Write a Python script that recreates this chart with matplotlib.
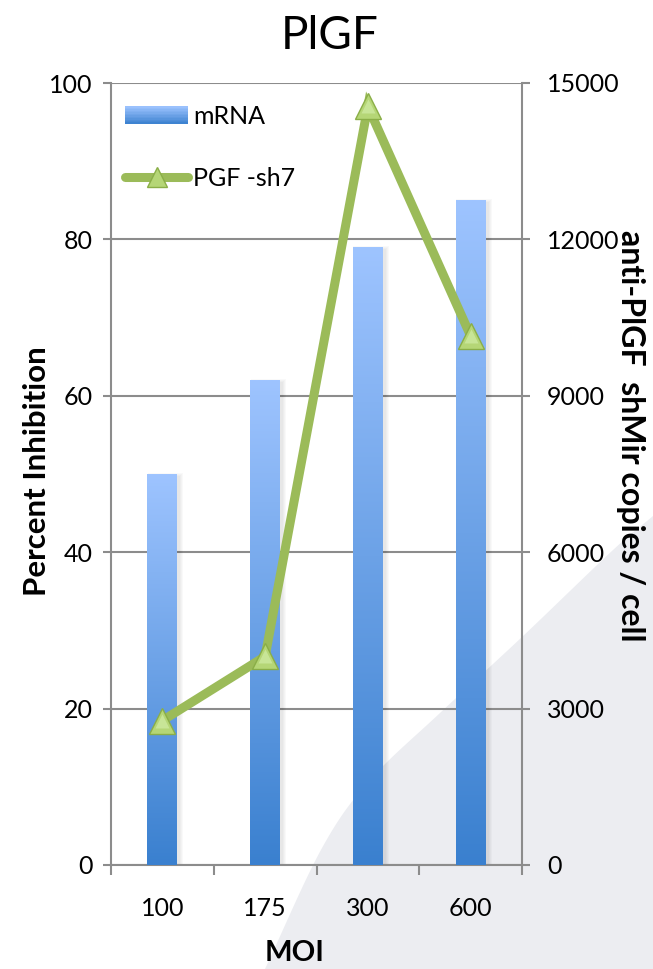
import numpy as np
import matplotlib
matplotlib.use("Agg")
import matplotlib.pyplot as plt
from matplotlib.patches import Rectangle, Polygon
from matplotlib.lines import Line2D
from matplotlib.legend_handler import HandlerBase
from matplotlib.colors import LinearSegmentedColormap, to_rgb

plt.rcParams['font.family'] = ['Lato', 'DejaVu Sans']

# ---- data ----
moi_labels = ["100", "175", "300", "600"]
inhibition_pct = [50, 62, 79, 85]              # bars, left axis
shmir_copies = [2770, 4000, 14550, 10150]      # line, right axis
left_ticks = [0, 20, 40, 60, 80, 100]
right_ticks = [0, 3000, 6000, 9000, 12000, 15000]

W, H, DPI = 653, 969, 100
fig = plt.figure(figsize=(W / DPI, H / DPI), dpi=DPI)
fig.patch.set_facecolor("white")

# decorative grey sweep in the lower-right corner (figure pixel coords)
anchors = np.array([(653, 516), (613, 550), (522, 637), (440, 713),
                    (370, 780), (322, 848), (265, 969)], dtype=float)

def catmull(pts, n=20):
    out = []
    P = np.vstack([2 * pts[0] - pts[1], pts, 2 * pts[-1] - pts[-2]])
    for i in range(1, len(P) - 2):
        p0, p1, p2, p3 = P[i - 1], P[i], P[i + 1], P[i + 2]
        for t in np.linspace(0, 1, n, endpoint=False):
            t2, t3 = t * t, t * t * t
            out.append(0.5 * ((2 * p1) + (-p0 + p2) * t +
                              (2 * p0 - 5 * p1 + 4 * p2 - p3) * t2 +
                              (-p0 + 3 * p1 - 3 * p2 + p3) * t3))
    out.append(pts[-1])
    return np.array(out)

curve = catmull(anchors)
poly_pts = np.vstack([curve, [(653, 969)]])
poly_fig = np.column_stack([poly_pts[:, 0] / W, 1 - poly_pts[:, 1] / H])
sweep = Polygon(poly_fig, closed=True, transform=fig.transFigure,
                facecolor="#ECEDF1", edgecolor="none", zorder=-5)
fig.add_artist(sweep)

ax = fig.add_axes([111 / W, 1 - 865 / H, (522 - 111) / W, (865 - 83) / H])
ax.patch.set_visible(False)
ax2 = ax.twinx()
ax2.patch.set_visible(False)

x = np.arange(len(moi_labels))
bar_w = 0.29
grey = "#8C8C8C"
top_c, bot_c = "#9EC4FF", "#3A80CF"
grad_cmap = LinearSegmentedColormap.from_list("bar", [bot_c, top_c])

ax.set_xlim(-0.5, len(moi_labels) - 0.5)
ax.set_ylim(0, 100)

bars = ax.bar(x, inhibition_pct, width=bar_w, facecolor="none",
              edgecolor="none", zorder=3)
px_x = 1 / 102.75
px_y = 100 / 782
for rect in bars:
    x0, w, h = rect.get_x(), rect.get_width(), rect.get_height()
    # soft shadow, mostly to the right
    for k in range(4):
        ax.add_patch(Rectangle((x0 + px_x * (2 - k * 0.5), 0),
                               w + px_x * (1 + 1.5 * k),
                               h - px_y * (2 - k), facecolor="black",
                               alpha=0.025, edgecolor="none", zorder=2))
    grad = np.linspace(0, 1, 256).reshape(-1, 1)
    im = ax.imshow(grad, cmap=grad_cmap, origin="lower", aspect="auto",
                   extent=(x0, x0 + w, 0, h), zorder=3)
    im.set_clip_path(rect)

ax.set_xlim(-0.5, len(moi_labels) - 0.5)
ax.set_ylim(0, 100)

# left axis
ax.set_yticks(left_ticks)
ax.yaxis.grid(True, color=grey, linewidth=1.5)
ax.set_axisbelow(True)
ax.tick_params(axis="y", direction="out", length=6, width=1.5, color=grey,
               labelsize=18, pad=7)
# category boundaries as major x ticks, labels on minor ticks
ax.set_xticks(np.arange(-0.5, len(moi_labels), 1.0))
ax.set_xticklabels([])
ax.set_xticks(x, minor=True)
ax.set_xticklabels(moi_labels, minor=True)
ax.tick_params(axis="x", which="major", direction="out", length=7, width=1.5,
               color=grey)
ax.tick_params(axis="x", which="minor", length=0, labelsize=18, pad=23)

for side in ["left", "bottom"]:
    ax.spines[side].set_color(grey)
    ax.spines[side].set_linewidth(1.5)
for s in ["top", "right"]:
    ax.spines[s].set_visible(False)
for s in ["top", "left", "bottom"]:
    ax2.spines[s].set_visible(False)
ax2.spines["right"].set_color(grey)
ax2.spines["right"].set_linewidth(1.5)

# right axis
ax2.set_ylim(0, 15000)
ax2.set_yticks(right_ticks)
ax2.tick_params(axis="y", direction="out", length=6, width=1.5, color=grey,
                labelsize=18, pad=12)

line_c = "#9BBB59"
ax2.plot(x, shmir_copies, color=line_c, linewidth=6.5, solid_joinstyle="miter",
         solid_capstyle="butt", zorder=4)
ax2.plot(x, shmir_copies, linestyle="none", marker="^", markersize=19,
         markerfacecolor="#B5D676", markeredgecolor="#8AAE47",
         markeredgewidth=1.0, zorder=5)
ax2.plot(x, shmir_copies, linestyle="none", marker="^", markersize=10,
         markerfacecolor="#CDE9A0", markeredgecolor="none", zorder=6,
         alpha=0.8)


class GradientPatchHandler(HandlerBase):
    def create_artists(self, legend, orig_handle, xdescent, ydescent,
                       width, height, fontsize, trans):
        arts = []
        n = 12
        c0, c1 = np.array(to_rgb(bot_c)), np.array(to_rgb(top_c))
        for i in range(n):
            f = (i + 0.5) / n
            r = Rectangle((-xdescent, -ydescent + height * i / n), width,
                          height / n + 0.3, facecolor=c0 + (c1 - c0) * f,
                          edgecolor="none", transform=trans)
            arts.append(r)
        return arts


bar_handle = Rectangle((0, 0), 1, 1)
line_handle = Line2D([], [], color=line_c, linewidth=6.5, marker="^",
                     markersize=14, markerfacecolor="#B5D676",
                     markeredgecolor="#8AAE47", solid_capstyle="round")
leg = ax2.legend([bar_handle, line_handle], ["mRNA", "PGF -sh7"],
                 handler_map={Rectangle: GradientPatchHandler()},
                 loc="upper left", bbox_to_anchor=(0.035, 0.972),
                 frameon=False, fontsize=18, handlelength=2.5,
                 handleheight=0.7, handletextpad=0.2, labelspacing=1.55,
                 borderpad=0, borderaxespad=0)

fig.text(0.505, 1 - 36 / H, "PlGF", ha="center", va="center", fontsize=33)
fig.text(37 / W, 1 - 471 / H, "Percent Inhibition", rotation=90,
         ha="center", va="center", fontsize=22.5, fontweight="bold")
fig.text(631 / W, 1 - 436 / H, "anti-PlGF  shMir copies / cell",
         rotation=-90, ha="center", va="center", fontsize=23,
         fontweight="bold")
fig.text(295 / W, 1 - 953 / H, "MOI", ha="center", va="center",
         fontsize=21, fontweight="bold")

fig.savefig("out.png", dpi=DPI)
